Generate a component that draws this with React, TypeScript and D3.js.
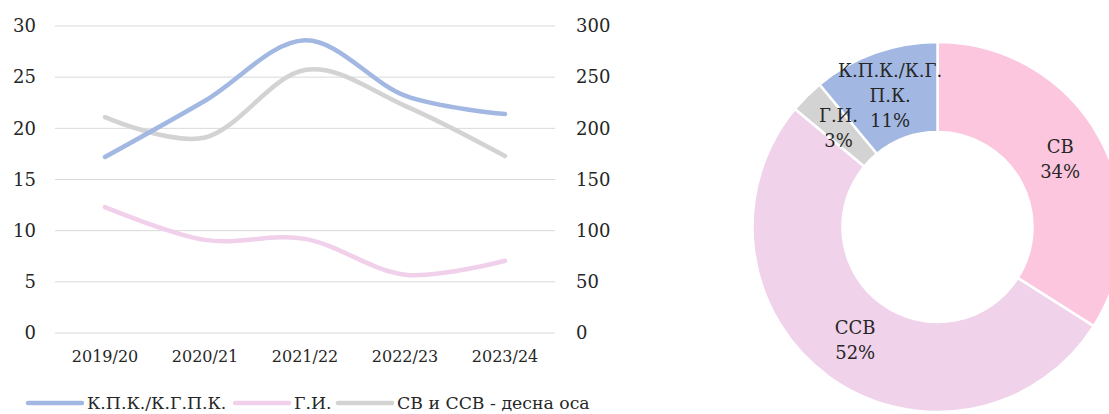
import { scaleBand, scaleLinear, line as d3_line, curveCardinal, pie as d3_pie, arc as d3_arc } from "d3";

// left panel: smoothed lines, two y axes
const years = ["2019/20", "2020/21", "2021/22", "2022/23", "2023/24"];
const kpkValues = [17.2, 22.7, 28.6, 23.2, 21.4];
const giValues = [12.3, 9.1, 9.2, 5.7, 7.06];
const svCsvValues = [211, 191, 257, 222, 173]; // right axis
const leftTicks = [0, 5, 10, 15, 20, 25, 30];
const rightTicks = [0, 50, 100, 150, 200, 250, 300];

const seriesNames = ["К.П.К./К.Г.П.К.", "Г.И.", "СВ и ССВ - десна оса"];
const seriesColors = ["#A2B8E2", "#F0D0EA", "#D3D3D3"];

// right panel: donut shares
const pieValues = [34, 52, 3, 11];
const pieLabelLines = [["СВ"], ["ССВ"], ["Г.И."], ["К.П.К./К.Г.", "П.К."]];
const pieColors = ["#FBC6DE", "#F0D2EA", "#D3D3D3", "#A2B8E2"];

const FONT = "'DejaVu Serif', serif";
const TEXT = "#262626";

export default function App() {
  const W = 1109;
  const H = 414;
  const plot = { left: 55, right: 555, top: 26, bottom: 333 };

  const x = scaleBand().domain(years).range([plot.left, plot.right]);
  const yL = scaleLinear().domain([0, 30]).range([plot.bottom, plot.top]);
  const yR = scaleLinear().domain([0, 300]).range([plot.bottom, plot.top]);
  const cx = (d: string) => (x(d) ?? 0) + x.bandwidth() / 2;

  const mkLine = (scale: (v: number) => number) =>
    d3_line<number>()
      .x((_, i) => cx(years[i]))
      .y((v) => scale(v))
      .curve(curveCardinal.tension(0));

  const paths = [
    mkLine(yL)(kpkValues),
    mkLine(yL)(giValues),
    mkLine(yR)(svCsvValues),
  ];

  // legend layout (line 54px, then text)
  const legendX = [28, 235, 338];
  const legendY = 403;

  const center = { x: 937.5, y: 227 };
  const rIn = 95;
  const rOut = 185;
  const arcs = d3_pie<number>().sort(null).value((d) => d)(pieValues);
  const arcGen = d3_arc<any>().innerRadius(rIn).outerRadius(rOut);
  const total = pieValues.reduce((a, b) => a + b, 0);

  return (
    <div style={{ position: "absolute", left: 0, top: 0, width: W, height: H, background: "#fff" }}>
      <svg width={W} height={H} fontFamily={FONT} style={{ display: "block" }}>
        {/* grid */}
        {leftTicks.map((t) => (
          <line key={t} x1={plot.left} x2={plot.right} y1={yL(t)} y2={yL(t)} stroke="#D9D9D9" strokeWidth={1} />
        ))}
        {/* left axis */}
        {leftTicks.map((t) => (
          <text key={t} x={36} y={yL(t)} dy="0.35em" textAnchor="end" fontSize={18} fill={TEXT}>
            {t}
          </text>
        ))}
        {/* right axis */}
        {rightTicks.map((t) => (
          <text key={t} x={576} y={yR(t)} dy="0.35em" textAnchor="start" fontSize={18} fill={TEXT}>
            {t}
          </text>
        ))}
        {/* x labels */}
        {years.map((d) => (
          <text key={d} x={cx(d)} y={356} dy="0.35em" textAnchor="middle" fontSize={16} fill={TEXT}>
            {d}
          </text>
        ))}
        {/* series: draw gray first so blue sits on top */}
        {[2, 1, 0].map((i) => (
          <path key={i} d={paths[i] ?? ""} fill="none" stroke={seriesColors[i]} strokeWidth={4.5} strokeLinecap="round" />
        ))}
        {/* legend */}
        {seriesNames.map((name, i) => (
          <g key={name}>
            <line x1={legendX[i]} x2={legendX[i] + 54} y1={legendY} y2={legendY} stroke={seriesColors[i]} strokeWidth={4.5} strokeLinecap="round" />
            <text x={legendX[i] + 59} y={legendY} dy="0.35em" fontSize={17.3} fill={TEXT}>
              {name}
            </text>
          </g>
        ))}

        {/* donut */}
        <g transform={`translate(${center.x},${center.y})`}>
          {arcs.map((a, i) => (
            <path key={i} d={arcGen(a) ?? ""} fill={pieColors[i]} stroke="#fff" strokeWidth={2.5} />
          ))}
          {arcs.map((a, i) => {
            const [lx, ly] = arcGen.centroid(a);
            const lines = [...pieLabelLines[i], `${Math.round((a.value / total) * 100)}%`];
            const lh = 25;
            const y0 = ly - ((lines.length - 1) * lh) / 2;
            return (
              <text key={i} x={lx} textAnchor="middle" fontSize={18} fill={TEXT}>
                {lines.map((s, j) => (
                  <tspan key={j} x={lx} y={y0 + j * lh} dy="0.35em">
                    {s}
                  </tspan>
                ))}
              </text>
            );
          })}
        </g>
      </svg>
    </div>
  );
}
